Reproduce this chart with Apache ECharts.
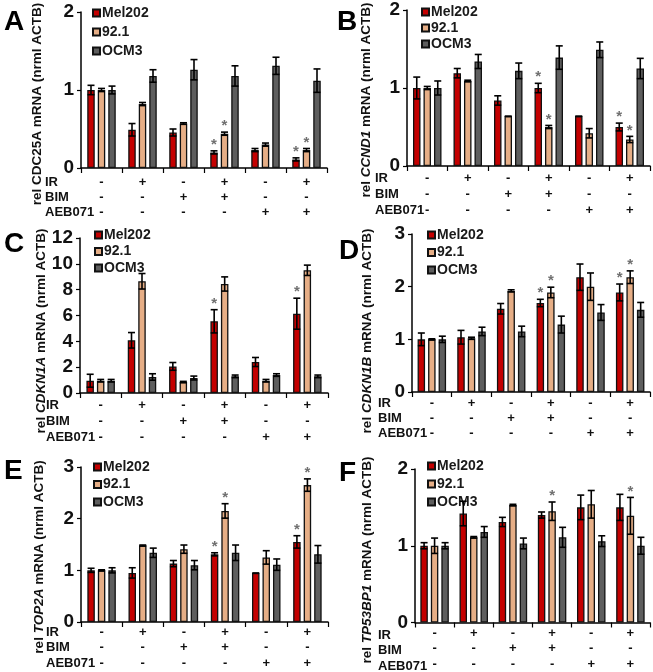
<!DOCTYPE html>
<html>
<head>
<meta charset="utf-8">
<script src="https://cdn.jsdelivr.net/npm/echarts@6/dist/echarts.min.js"></script>
<style>html,body{margin:0;padding:0;background:#fff}#c{width:653px;height:672px}</style>
</head>
<body>
<div id="c"></div>
<script>
// ---------- data ----------
const conditions = ['c1','c2','c3','c4','c5','c6'];
const IR     = ['-','+','-','+','-','+'];
const BIM    = ['-','-','+','+','-','-'];
const AEB071 = ['-','-','-','-','+','+'];
const treatmentNames = ['IR','BIM','AEB071'];
const cellLines = ['Mel202','92.1','OCM3'];
const panelLetters = ['A','B','C','D','E','F'];
const genes = ['CDC25A','CCND1','CDKN1A','CDKN1B','TOP2A','TP53BP1'];
const yMax = [2,2,12,3,3,2];
const yStep = [1,1,2,1,1,1];

// Panel A: CDC25A
const A_mel = [1.0,0.49,0.455,0.2,0.23,0.11];
const A_mel_err = [0.06,0.08,0.045,0.02,0.02,0.02];
const A_921 = [1.0,0.82,0.57,0.44,0.3,0.23];
const A_921_err = [0.02,0.02,0.01,0.02,0.02,0.02];
const A_ocm = [1.0,1.18,1.26,1.18,1.31,1.12];
const A_ocm_err = [0.05,0.08,0.13,0.13,0.11,0.15];
const A_mel_sig = [0,0,0,1,0,1];
const A_921_sig = [0,0,0,1,0,1];
const A_ocm_sig = [0,0,0,0,0,0];

// Panel B: CCND1
const B_mel = [1.0,1.19,0.84,1.0,0.64,0.5];
const B_mel_err = [0.14,0.06,0.06,0.06,0.0,0.05];
const B_921 = [1.0,1.09,0.64,0.5,0.42,0.34];
const B_921_err = [0.02,0.01,0.0,0.02,0.06,0.04];
const B_ocm = [1.0,1.34,1.22,1.39,1.49,1.25];
const B_ocm_err = [0.09,0.09,0.1,0.15,0.1,0.13];
const B_mel_sig = [0,0,0,1,0,1];
const B_921_sig = [0,0,0,1,0,1];
const B_ocm_sig = [0,0,0,0,0,0];

// Panel C: CDKN1A
const C_mel = [0.95,4.08,2.06,5.55,2.4,6.14];
const C_mel_err = [0.5,0.6,0.3,0.9,0.35,1.2];
const C_921 = [0.95,8.65,0.85,8.44,0.95,9.5];
const C_921_err = [0.1,0.6,0.05,0.55,0.1,0.4];
const C_ocm = [0.95,1.24,1.16,1.29,1.39,1.29];
const C_ocm_err = [0.1,0.25,0.15,0.1,0.1,0.1];
const C_mel_sig = [0,0,0,1,0,1];
const C_921_sig = [0,0,0,0,0,0];
const C_ocm_sig = [0,0,0,0,0,0];

// Panel D: CDKN1B
const D_mel = [1.0,1.04,1.58,1.69,2.18,1.89];
const D_mel_err = [0.12,0.13,0.1,0.07,0.25,0.16];
const D_921 = [1.0,1.02,1.92,1.89,2.0,2.18];
const D_921_err = [0.01,0.02,0.02,0.1,0.26,0.12];
const D_ocm = [1.0,1.15,1.15,1.28,1.51,1.56];
const D_ocm_err = [0.06,0.08,0.1,0.16,0.15,0.14];
const D_mel_sig = [0,0,0,1,0,1];
const D_921_sig = [0,0,0,1,0,1];
const D_ocm_sig = [0,0,0,0,0,0];

// Panel E: TOP2A
const E_mel = [1.0,0.95,1.13,1.31,0.95,1.55];
const E_mel_err = [0.04,0.1,0.06,0.03,0.0,0.12];
const E_921 = [1.0,1.48,1.41,2.15,1.25,2.65];
const E_921_err = [0.01,0.01,0.08,0.14,0.13,0.12];
const E_ocm = [1.0,1.34,1.1,1.34,1.11,1.31];
const E_ocm_err = [0.05,0.09,0.09,0.15,0.11,0.17];
const E_mel_sig = [0,0,0,1,0,1];
const E_921_sig = [0,0,0,1,0,1];
const E_ocm_sig = [0,0,0,0,0,0];

// Panel F: TP53BP1
const F_mel = [1.0,1.42,1.31,1.4,1.5,1.5];
const F_mel_err = [0.04,0.16,0.06,0.04,0.16,0.17];
const F_921 = [1.0,1.11,1.53,1.45,1.54,1.39];
const F_921_err = [0.1,0.01,0.01,0.12,0.18,0.24];
const F_ocm = [1.0,1.18,1.03,1.11,1.06,1.0];
const F_ocm_err = [0.04,0.07,0.07,0.13,0.07,0.11];
const F_mel_sig = [0,0,0,0,0,0];
const F_921_sig = [0,0,0,1,0,1];
const F_ocm_sig = [0,0,0,0,0,0];

const panels = [
  {means:[A_mel,A_921,A_ocm], errs:[A_mel_err,A_921_err,A_ocm_err], sigs:[A_mel_sig,A_921_sig,A_ocm_sig]},
  {means:[B_mel,B_921,B_ocm], errs:[B_mel_err,B_921_err,B_ocm_err], sigs:[B_mel_sig,B_921_sig,B_ocm_sig]},
  {means:[C_mel,C_921,C_ocm], errs:[C_mel_err,C_921_err,C_ocm_err], sigs:[C_mel_sig,C_921_sig,C_ocm_sig]},
  {means:[D_mel,D_921,D_ocm], errs:[D_mel_err,D_921_err,D_ocm_err], sigs:[D_mel_sig,D_921_sig,D_ocm_sig]},
  {means:[E_mel,E_921,E_ocm], errs:[E_mel_err,E_921_err,E_ocm_err], sigs:[E_mel_sig,E_921_sig,E_ocm_sig]},
  {means:[F_mel,F_921,F_ocm], errs:[F_mel_err,F_921_err,F_ocm_err], sigs:[F_mel_sig,F_921_sig,F_ocm_sig]}
];

// ---------- layout / style ----------
const FONT = '"Liberation Sans", Arial, Helvetica, sans-serif';
const colors = ['#C40000', '#E6AE86', '#5E5E5E'];
const BAR_W = 7.5, BAR_GAP = 0.4;
const grids = [
  {left:81, top:12, width:246, height:156},
  {left:407, top:10, width:243, height:156},
  {left:80, top:238, width:248, height:155},
  {left:412, top:234, width:238, height:158},
  {left:81, top:467, width:247, height:155},
  {left:415, top:469, width:235, height:155}
];
const labelRow = [ {margin:6.5, lh:15}, {margin:4, lh:16}, {margin:4, lh:16},
                   {margin:3.5, lh:15}, {margin:2.5, lh:15.5}, {margin:3, lh:15.5} ];
const legendPos = [ {left:92, top:6, gap:5}, {left:421, top:5, gap:2}, {left:94, top:228, gap:2.5},
                    {left:427, top:228, gap:3.5}, {left:93, top:460, gap:3.5}, {left:427, top:459, gap:4} ];
const letterPos = [[4,8],[337,8],[4,230],[339,237],[4,457],[339,459]];
const yNamePos = [[37,104],[366,100],[41,331],[367,331],[39,557],[367,560]];
const geneItalic = [false,true,true,true,true,true];
const rowLabelPos = [ [45,182,15], [375,178,16], [46,405,16], [378,403,15], [46,632,15.5], [378,635,15.5] ];

const option = {
  animation:false,
  backgroundColor:'#fff',
  textStyle:{fontFamily:FONT},
  grid: grids.map(g => Object.assign({containLabel:false}, g)),
  xAxis: grids.map((g,p) => ({
    type:'category', gridIndex:p, data:conditions,
    axisLine:{lineStyle:{color:'#000', width:1.5}},
    axisTick:{show:true, length:5, lineStyle:{color:'#000', width:1.2}},
    axisLabel:{
      margin:labelRow[p].margin, interval:0,
      fontFamily:FONT, fontSize:13, fontWeight:'bold', color:'#111', lineHeight:labelRow[p].lh,
      formatter:(v, i) => IR[i] + '\n' + BIM[i] + '\n' + AEB071[i]
    },
    splitLine:{show:false}
  })),
  yAxis: grids.map((g,p) => ({
    type:'value', gridIndex:p, min:0, max:yMax[p], interval:yStep[p],
    axisLine:{show:true, lineStyle:{color:'#000', width:1.5}},
    axisTick:{show:true, length:4, lineStyle:{color:'#000', width:1.2}},
    axisLabel:{fontFamily:FONT, fontSize:19, fontWeight:'bold', color:'#111', margin:7},
    splitLine:{show:false}
  })),
  legend: legendPos.map((lp,p) => ({
    data:cellLines, orient:'vertical', left:lp.left, top:lp.top, itemGap:lp.gap,
    itemWidth:7, itemHeight:7, icon:'rect', selectedMode:false, padding:0,
    textStyle:{fontFamily:FONT, fontSize:14, fontWeight:'bold', color:'#1a1a1a', lineHeight:14, padding:[0,0,0,-3]}
  })),
  series: [],
  graphic: []
};

panels.forEach((pd, p) => {
  pd.means.forEach((vals, k) => {
    option.series.push({
      type:'bar', name:cellLines[k], xAxisIndex:p, yAxisIndex:p,
      data:vals, barWidth:BAR_W, barGap:(BAR_GAP*100)+'%',
      itemStyle:{color:colors[k], borderColor:'#111', borderWidth:1.3},
      z:2
    });
  });
  pd.means.forEach((vals, k) => {
    const off = (k-1) * BAR_W * (1 + BAR_GAP);
    option.series.push({
      type:'custom', name:cellLines[k]+' err', xAxisIndex:p, yAxisIndex:p, z:5,
      data: vals.map((v,i) => [i, v, pd.errs[k][i], pd.sigs[k][i]]),
      renderItem:(params, api) => {
        const i = api.value(0), v = api.value(1), e = api.value(2), s = api.value(3);
        const x = api.coord([i, 0])[0] + off;
        const top = api.coord([i, v + e])[1];
        const bot = api.coord([i, v - e])[1];
        const cw = 3.5;
        const st = {stroke:'#000', lineWidth:1.6};
        const children = [];
        if (e > 0) {
          children.push({type:'line', shape:{x1:x, y1:top, x2:x, y2:bot}, style:st});
          children.push({type:'line', shape:{x1:x-cw, y1:top, x2:x+cw, y2:top}, style:st});
          children.push({type:'line', shape:{x1:x-cw, y1:bot, x2:x+cw, y2:bot}, style:st});
        } else {
          children.push({type:'line', shape:{x1:x-cw, y1:top, x2:x+cw, y2:top}, style:st});
        }
        if (s) {
          children.push({type:'text', style:{text:'*', x:x, y:top-6, align:'center', verticalAlign:'middle',
            fill:'#707070', font:'bold 15px ' + FONT}});
        }
        return {type:'group', children:children};
      }
    });
  });

  // panel letter
  option.graphic.push({type:'text', left:letterPos[p][0], top:letterPos[p][1],
    style:{text:panelLetters[p], font:'bold 28px ' + FONT, fill:'#000'}});
  // y axis name
  option.graphic.push({type:'text', x:yNamePos[p][0], y:yNamePos[p][1], rotation:Math.PI/2,
    style:{text:'{n|rel }{g|' + genes[p] + '}{n| mRNA (nrml ACTB)}', align:'center', verticalAlign:'middle',
      rich:{
        n:{fontFamily:FONT, fontSize:13.5, fontWeight:'bold', fill:'#111', color:'#111'},
        g:{fontFamily:FONT, fontSize:13.5, fontWeight:'bold', fontStyle:geneItalic[p]?'italic':'normal', fill:'#111', color:'#111'}
      }}});
  // treatment row labels
  treatmentNames.forEach((t, r) => {
    option.graphic.push({type:'text', x:rowLabelPos[p][0], y:rowLabelPos[p][1] + r*rowLabelPos[p][2],
      style:{text:t, font:'bold 13px ' + FONT, fill:'#111', align:'left', verticalAlign:'middle'}});
  });
});

const chart = echarts.init(document.getElementById('c'), null, {renderer:'canvas'});
chart.setOption(option);
</script>
</body>
</html>
